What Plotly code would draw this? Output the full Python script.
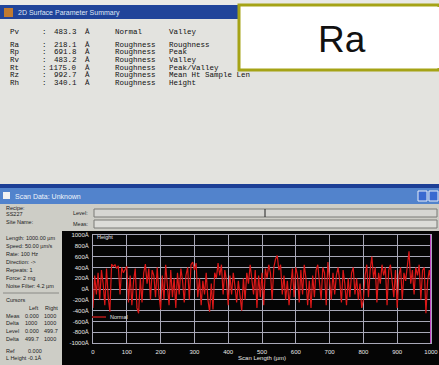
import plotly.graph_objects as go

W, H = 439, 365

# ---------------- data ----------------
# surface profile height (Å), sampled every 5 µm from 0 to 1000 µm
profile_height = [
    -350, 250, -100, 300, -200, 350, 100, -300, 380, -150,
    -420, 460, 420, 450, 380, 430, -100, 400, 300, 350,
    420, -250, 250, -300, 150, 380, -350, -450, 200, -250,
    300, 460, 100, 380, -200, 350, 250, -150, 400, -100,
    -380, 250, -200, 450, 100, -300, 350, -150, 200, -350,
    300, -100, 380, 150, -250, 250, 400, -200, 450, 500,
    350, 480, -150, 200, -300, 150, -100, 300, -200, -420,
    100, -380, 300, 200, 480, 250, 450, -100, 350, 150,
    -300, 250, -100, 300, 50, -250, 150, -150, -400, 200,
    -200, 300, 100, 450, 200, -100, 350, -350, 250, -150,
    300, -300, 380, 200, 450, 300, -200, 400, 550, 620,
    350, 450, -100, 250, -200, 150, -300, 100, 380, -150,
    400, 250, -250, 350, -100, 450, 200, -300, 150, -350,
    250, -150, 350, 450, 100, -200, 400, 300, -300, 500,
    150, -200, 300, -100, 250, 400, 150, -250, 350, 100,
    -300, 200, -150, 300, 400, -100, 200, -200, 100, -350,
    -200, 250, 450, -150, 350, 600, 200, 400, -250, 300,
    100, 450, 250, 400, -300, 350, 450, 200, -150, 350,
    -350, 250, 400, -200, 300, 150, 450, 700, 100, 350,
    -100, 400, 250, 450, -200, 350, 400, -450, 150, 350, 100,
]
scan_length = list(range(0, 1001, 5))

y_tick_vals = [1000, 800, 600, 400, 200, 0, -200, -400, -600, -800, -1000]
y_tick_text = ["1000Å", "800Å", "600Å", "400Å", "200Å", "0Å",
               "-200Å", "-400Å", "-600Å", "-800Å", "-1000Å"]
x_tick_vals = [0, 100, 200, 300, 400, 500, 600, 700, 800, 900, 1000]

pv_value = "483.3"
param_names = ["Ra", "Rp", "Rv", "Rt", "Rz", "Rh"]
param_values = ["218.1", "691.8", "483.2", "1175.0", "992.7", "340.1"]
param_kind = ["Roughness"] * 6
param_desc = ["Roughness", "Peak", "Valley", "Peak/Valley",
              "Mean Ht Sample Len", "Height"]

info_lines = ["Length: 1000.00 µm", "Speed: 50.00 µm/s", "Rate: 100 Hz",
              "Direction: ->", "Repeats: 1", "Force: 2 mg",
              "Noise Filter: 4.2 µm"]
cursor_rows = [("Meas", "0.000", "1000"), ("Delta", "1000", "1000"),
               ("Level", "0.000", "499.7"), ("Delta", "499.7", "1000")]


def px(x):
    return x / W


def py(y):
    return 1 - y / H


shapes = []
ann = []


def rect(x0, y0, x1, y1, fill, line=None, lw=0, layer="below"):
    shapes.append(dict(type="rect", xref="paper", yref="paper",
                       x0=px(x0), x1=px(x1), y0=py(y1), y1=py(y0),
                       fillcolor=fill, layer=layer,
                       line=dict(color=line or fill, width=lw)))


def hline(x0, x1, y, color, lw=1, layer="below"):
    shapes.append(dict(type="line", xref="paper", yref="paper",
                       x0=px(x0), x1=px(x1), y0=py(y), y1=py(y),
                       line=dict(color=color, width=lw), layer=layer))


def text(x, y, s, size=6, color="#222", family="Liberation Sans",
         anchor="left"):
    ann.append(dict(xref="paper", yref="paper", x=px(x), y=py(y), text=s,
                    showarrow=False, xanchor=anchor, yanchor="middle",
                    font=dict(size=size, color=color, family=family)))


# ---------- top window ----------
rect(0, 0, W, 18, "#e9e9e6")
rect(0, 5, W, 19, "#20449a")
rect(4, 8, 13, 17, "#c07a30")
text(16, 12.5, "2D Surface Parameter Summary", 7, "#dfe6f5")
rect(0, 19, W, 184, "#e3e3df")
rect(0, 184, W, 188, "#1d3f96")

mono = "Liberation Mono"
tc = "#111111"
text(8, 32, "Pv", 7.5, tc, mono)
text(40, 32, ":", 7.5, tc, mono)
text(79, 32, pv_value, 7.5, tc, mono, "right")
text(83, 32, "Å", 7.5, tc, mono)
text(113, 32, "Normal", 7.5, tc, mono)
text(167, 32, "Valley", 7.5, tc, mono)
for i, (n, v, k, d) in enumerate(zip(param_names, param_values,
                                     param_kind, param_desc)):
    yy = 44.5 + i * 7.7
    text(8, yy, n, 7.5, tc, mono)
    text(40, yy, ":", 7.5, tc, mono)
    text(79, yy, v, 7.5, tc, mono, "right")
    text(83, yy, "Å", 7.5, tc, mono)
    text(113, yy, k, 7.5, tc, mono)
    text(167, yy, d, 7.5, tc, mono)

# Ra call-out box (right edge runs off the screen)
rect(239, 5, W, 70, "#ffffff", "#a5a316", 3)
rect(437, 7, W, 68, "#ffffff")
text(342, 39, "Ra", 37, "#111", "Liberation Sans", "center")

# ---------- scan data window ----------
rect(0, 188, W, 204, "#5283cc")
rect(3, 192, 10, 199, "#f2f2f2")
text(13, 196, "Scan Data: Unknown", 7, "#f0f4fb")
rect(418, 191, 427, 201, "#3a6ad0", "#e8eef8", 1)
rect(429, 191, 438, 201, "#3a6ad0", "#e8eef8", 1)
rect(0, 204, W, H, "#cdcdc6")

# left info panel
text(4, 208, "Recipe:", 5.5)
text(4, 214, "SS227", 5.5)
text(4, 222, "Site Name:", 5.5)
for i, s in enumerate(info_lines):
    text(4, 238 + i * 8, s, 5.5)
hline(3, 59, 293, "#8a8a86", 1)
text(4, 300, "Cursors", 5.5)
text(27, 308, "Left", 5.5)
text(43, 308, "Right", 5.5)
for i, (a, b, c) in enumerate(cursor_rows):
    yy = 315.5 + i * 7.7
    text(4, yy, a, 5.5)
    text(23, yy, b, 5.5)
    text(42, yy, c, 5.5)
text(4, 351, "Ref", 5.5)
text(26, 351, "0.000", 5.5)
text(4, 358, "L Height", 5.5)
text(26, 358, "-0.1Å", 5.5)

# level / meas bars
text(90, 213, "Level:", 5.5, anchor="right")
text(90, 224, "Meas:", 5.5, anchor="right")
rect(94, 209, 437, 217, "#d6d6d2", "#7a7a76", 1)
rect(94, 220, 437, 228, "#dcdcd8", "#7a7a76", 1)
shapes.append(dict(type="line", xref="paper", yref="paper",
                   x0=px(265), x1=px(265), y0=py(209), y1=py(217),
                   line=dict(color="#222", width=1), layer="above"))

# black chart area
rect(62, 231, W, H, "#050505")
text(95, 237, "Height", 5.5, "#e8e8e8")

# legend
hline(92, 106, 317, "#8a1414", 2, "above")
text(108, 317, "Normal", 5.5, "#e8e8e8")

fig = go.Figure()
fig.add_trace(go.Scatter(x=scan_length, y=profile_height, mode="lines",
                         line=dict(color="#dc1818", width=1.2),
                         showlegend=False, hoverinfo="skip"))

# right border of the chart in magenta
fig.add_shape(type="line", xref="x", yref="y", x0=1000, x1=1000,
              y0=-1000, y1=1000, line=dict(color="#c040c0", width=2),
              layer="above")

for s in shapes:
    fig.add_shape(**s)

axfont = dict(size=6, color="#e8e8e8", family="Liberation Sans")
fig.update_layout(
    width=W, height=H, autosize=False,
    margin=dict(l=0, r=0, t=0, b=0, pad=0),
    paper_bgcolor="#e3e3df",
    plot_bgcolor="rgba(0,0,0,0)",
    annotations=ann,
    showlegend=False,
    xaxis=dict(domain=[93 / W, 431 / W], range=[0, 1000],
               tickvals=x_tick_vals, showgrid=True,
               gridcolor="#a8a8b8", gridwidth=1, zeroline=False,
               showline=True, linecolor="#a8a8b8", mirror=True,
               ticks="outside", ticklen=3, tickcolor="rgba(0,0,0,0)",
               tickfont=axfont, automargin=False,
               title=dict(text="Scan Length (µm)", standoff=1,
                          font=axfont)),
    yaxis=dict(domain=[(H - 343) / H, (H - 235) / H], range=[-1000, 1000],
               tickvals=y_tick_vals, ticktext=y_tick_text,
               showgrid=True, gridcolor="#a8a8b8", gridwidth=1,
               zeroline=False, showline=True, linecolor="#a8a8b8",
               mirror=True, ticks="outside", ticklen=2,
               tickcolor="rgba(0,0,0,0)", tickfont=axfont,
               automargin=False),
)

fig.write_html(
    "out.html",
    config={"displayModeBar": False, "responsive": False},
    post_script=(
        "document.documentElement.style.overflow='hidden';"
        "document.body.style.margin='0';"
        "document.body.style.overflow='hidden';"
    ),
)
